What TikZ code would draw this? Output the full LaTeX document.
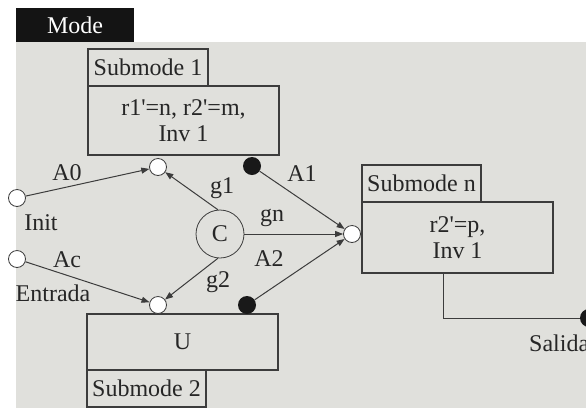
\documentclass[tikz,border=0pt]{standalone}
\usepackage{fontspec}
\setmainfont{Liberation Serif}[Ligatures=TeXOff]
\usetikzlibrary{arrows.meta}
\definecolor{bg}{RGB}{224,224,220}
\definecolor{ln}{RGB}{60,60,60}
\begin{document}
\begin{tikzpicture}[x=1pt,y=-1pt,
  txt/.style={font=\fontsize{24}{26}\selectfont, text=black!85, inner sep=0pt},
  box/.style={draw=ln, line width=1.2pt, inner sep=0pt, align=center,
    font=\fontsize{24}{26}\selectfont, text=black!85},
  port/.style={circle, draw=ln, fill=white, line width=0.8pt, minimum size=17pt, inner sep=0pt},
  dotn/.style={circle, fill=black!90, minimum size=18pt, inner sep=0pt},
  conn/.style={draw=ln, line width=1pt, -{Triangle[length=8pt,width=6pt]}},
  plain/.style={draw=ln, line width=1pt}]
\clip (0,0) rectangle (586,408);
\fill[white] (0,0) rectangle (586,408);
\fill[bg] (16,42) rectangle (586,408);
\fill[black!92] (16,8) rectangle (134,42);
\node[txt, text=white] (mode) at (75,25) {Mode};
% boxes
\node[box, minimum width=120pt, minimum height=37pt] (s1lab) at (148,67.5) {Submode 1};
\node[box, minimum width=191pt, minimum height=69pt] (s1box) at (183.5,120.5) {r1'=n, r2'=m,\\Inv 1};
\node[box, minimum width=191pt, minimum height=56pt] (ubox) at (182.5,342) {U};
\node[box, minimum width=119pt, minimum height=37pt] (s2lab) at (146.5,388.5) {Submode 2};
\node[box, minimum width=119pt, minimum height=37pt] (snlab) at (421.5,183.5) {Submode n};
\node[box, minimum width=191pt, minimum height=71pt] (snbox) at (457.5,237.5) {r2'=p,\\Inv 1};
% ports
\node[port] (init) at (17,198) {};
\node[port] (ac) at (17,259) {};
\node[port] (p1) at (158,167) {};
\node[port] (p2) at (158,305) {};
\node[port] (pn) at (352,234) {};
\node[dotn] (d1) at (252,166) {};
\node[dotn] (d2) at (247,305) {};
\node[dotn] (sdot) at (589,318) {};
\node[circle, draw=ln, line width=0.8pt, minimum size=48pt, inner sep=0pt,
  font=\fontsize{24}{26}\selectfont, text=black!85] (C) at (220,234) {C};
% connectors
\draw[conn] (init) -- (p1);
\draw[conn] (C.95) -- (p1);
\draw[conn] (d1) -- (pn);
\draw[conn] (C) -- (pn);
\draw[conn] (d2) -- (pn);
\draw[conn] (ac) -- (p2);
\draw[conn] (C.265) -- (p2);
\draw[plain] ([xshift=82pt]snbox.south west) |- (sdot);
% labels
\node[txt] (lA0) at (67,173) {A0};
\node[txt] (lInit) at (41,223) {Init};
\node[txt] (lAc) at (67,260) {Ac};
\node[txt] (lEntrada) at (53,293) {Entrada};
\node[txt] (lg1) at (222,188) {g1};
\node[txt] (lgn) at (272,218) {gn};
\node[txt] (lA1) at (302,174) {A1};
\node[txt] (lA2) at (269,259) {A2};
\node[txt] (lg2) at (218,282) {g2};
\node[txt, anchor=west] (lSalida) at (529,343) {Salida};
\end{tikzpicture}
\end{document}
